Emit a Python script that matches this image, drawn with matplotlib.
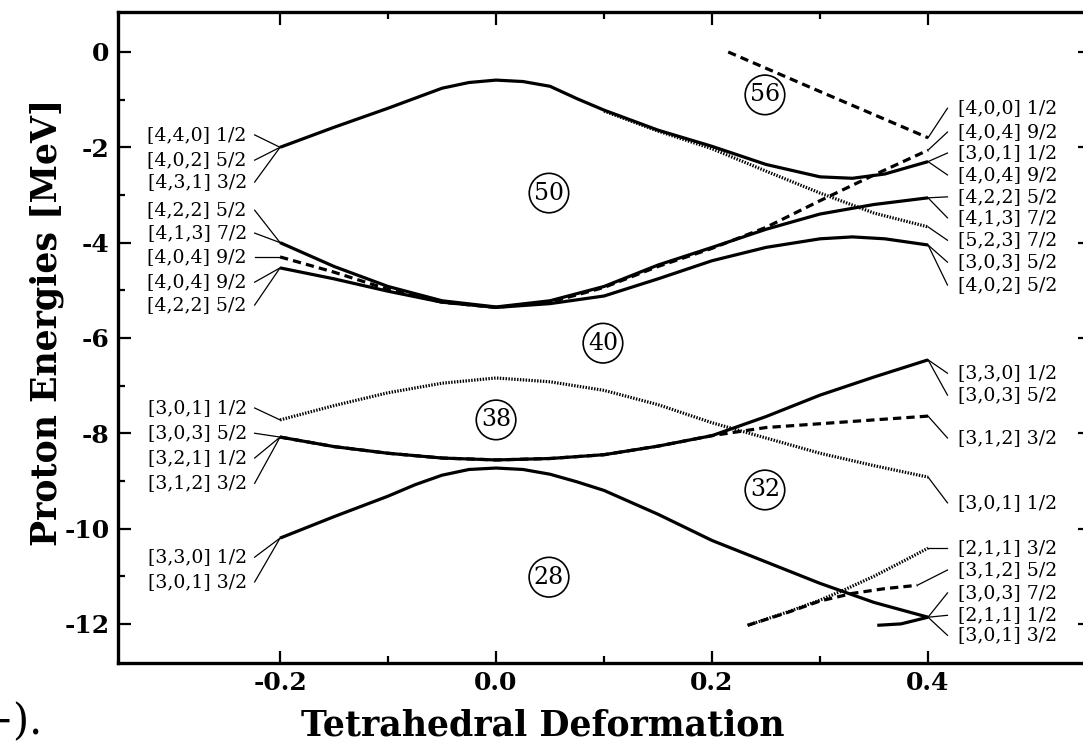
import matplotlib
matplotlib.use("Agg")
import matplotlib.pyplot as plt
from matplotlib.ticker import FixedLocator

# level curves (deformation, energy in MeV)
grid = [-0.2, -0.15, -0.1, -0.05, 0.0, 0.05, 0.1, 0.15, 0.2, 0.25, 0.3, 0.35, 0.4]

top_x = [-0.2, -0.15, -0.1, -0.075, -0.05, -0.025, 0.0, 0.025, 0.05, 0.075, 0.1, 0.15, 0.2,
         0.25, 0.3, 0.33, 0.36, 0.4]
top_e = [-2.0, -1.58, -1.18, -0.97, -0.76, -0.64, -0.59, -0.62, -0.72, -0.98, -1.22, -1.64, -1.98,
         -2.36, -2.62, -2.65, -2.56, -2.3]

branch_x = [0.1, 0.15, 0.2, 0.25, 0.3, 0.35, 0.4]
branch_e = [-1.24, -1.66, -2.03, -2.5, -2.96, -3.38, -3.67]

high_x = [0.215, 0.3, 0.4]
high_e = [0.0, -0.83, -1.8]

n50_upper = [-4.0, -4.5, -4.92, -5.22, -5.35, -5.22, -4.92, -4.47, -4.1, -3.72, -3.4, -3.2, -3.06]
n50_dash = [-4.3, -4.62, -4.98, -5.25, -5.36, -5.25, -4.94, -4.5, -4.12, -3.68, -3.12, -2.58, -2.06]
n50_lower_x = [-0.2, -0.15, -0.1, -0.05, 0.0, 0.05, 0.1, 0.15, 0.2, 0.25, 0.3, 0.33, 0.36, 0.4]
n50_lower = [-4.53, -4.76, -5.02, -5.25, -5.36, -5.28, -5.12, -4.76, -4.38, -4.1, -3.92, -3.88, -3.92, -4.05]

n38_dot = [-7.72, -7.42, -7.15, -6.95, -6.84, -6.92, -7.1, -7.4, -7.78, -8.1, -8.42, -8.68, -8.92]
n38_solid = [-8.08, -8.28, -8.42, -8.52, -8.56, -8.53, -8.45, -8.27, -8.05, -7.65, -7.2, -6.82, -6.46]
n32_dash = [-8.08, -8.28, -8.42, -8.52, -8.56, -8.53, -8.45, -8.27, -8.05, -7.88, -7.8, -7.72, -7.64]

n28_x = [-0.2, -0.15, -0.1, -0.075, -0.05, -0.025, 0.0, 0.025, 0.05, 0.075, 0.1, 0.15, 0.2,
         0.25, 0.3, 0.35, 0.4]
n28_solid = [-10.2, -9.75, -9.32, -9.08, -8.88, -8.76, -8.73, -8.76, -8.86, -9.02, -9.2, -9.7, -10.25,
             -10.7, -11.15, -11.55, -11.86]

low_dot_x = [0.233, 0.27, 0.3, 0.321, 0.35, 0.38, 0.4]
low_dot_e = [-12.03, -11.75, -11.5, -11.3, -11.0, -10.65, -10.41]
low_dash_x = [0.233, 0.27, 0.3, 0.33, 0.36, 0.39]
low_dash_e = [-12.03, -11.76, -11.52, -11.36, -11.26, -11.19]
low_solid_x = [0.353, 0.375, 0.4]
low_solid_e = [-12.03, -12.0, -11.86]

# magic numbers in circles
magic = ['56', '50', '40', '38', '32', '28']
magic_x = [0.249, 0.049, 0.099, 0.0, 0.249, 0.049]
magic_e = [-0.9, -2.96, -6.11, -7.72, -9.19, -11.02]

# Nilsson labels, left side
left_text = ['[4,4,0] 1/2', '[4,0,2] 5/2', '[4,3,1] 3/2', '[4,2,2] 5/2', '[4,1,3] 7/2',
             '[4,0,4] 9/2', '[4,0,4] 9/2', '[4,2,2] 5/2',
             '[3,0,1] 1/2', '[3,0,3] 5/2', '[3,2,1] 1/2', '[3,1,2] 3/2',
             '[3,3,0] 1/2', '[3,0,1] 3/2']
left_y = [-1.74, -2.27, -2.73, -3.32, -3.8, -4.3, -4.83, -5.31,
          -7.47, -8.0, -8.52, -9.05, -10.6, -11.12]
left_end = [(top_x[0], top_e[0])] * 3 + [(grid[0], n50_upper[0])] * 2 + \
           [(grid[0], n50_dash[0])] + [(n50_lower_x[0], n50_lower[0])] * 2 + \
           [(grid[0], n38_dot[0])] + [(grid[0], n38_solid[0])] * 3 + [(n28_x[0], n28_solid[0])] * 2

# Nilsson labels, right side
right_text = ['[4,0,0] 1/2', '[4,0,4] 9/2', '[3,0,1] 1/2', '[4,0,4] 9/2', '[4,2,2] 5/2',
              '[4,1,3] 7/2', '[5,2,3] 7/2', '[3,0,3] 5/2', '[4,0,2] 5/2',
              '[3,3,0] 1/2', '[3,0,3] 5/2', '[3,1,2] 3/2', '[3,0,1] 1/2',
              '[2,1,1] 3/2', '[3,1,2] 5/2', '[3,0,3] 7/2', '[2,1,1] 1/2', '[3,0,1] 3/2']
right_y = [-1.18, -1.68, -2.12, -2.58, -3.04, -3.48, -3.95, -4.41, -4.89,
           -6.74, -7.2, -8.1, -9.46, -10.41, -10.87, -11.35, -11.82, -12.24]
right_end = [(high_x[-1], high_e[-1]), (grid[-1], n50_dash[-1])] + [(top_x[-1], top_e[-1])] * 2 + \
            [(grid[-1], n50_upper[-1])] * 2 + [(branch_x[-1], branch_e[-1])] + \
            [(n50_lower_x[-1], n50_lower[-1])] * 2 + [(grid[-1], n38_solid[-1])] * 2 + \
            [(grid[-1], n32_dash[-1]), (grid[-1], n38_dot[-1]), (low_dot_x[-1], low_dot_e[-1]),
             (low_dash_x[-1], low_dash_e[-1])] + [(low_solid_x[-1], low_solid_e[-1])] * 3

plt.rcParams['font.family'] = 'DejaVu Serif'

fig = plt.figure(figsize=(10.83, 7.52), dpi=100)
ax = fig.add_axes([0.109, 0.1184, 0.8975, 0.8657])

solid = dict(color='black', lw=2.3, solid_capstyle='butt', solid_joinstyle='round')
dots = dict(color='black', lw=2.3, linestyle=(0, (0.45, 0.45)))
dash = dict(color='black', lw=2.3, linestyle=(0, (2.6, 1.6)))

ax.plot(top_x, top_e, **solid)
ax.plot(branch_x, branch_e, **dots)
ax.plot(high_x, high_e, **dash)
ax.plot(grid, n50_upper, **solid)
ax.plot(grid, n50_dash, **dash)
ax.plot(n50_lower_x, n50_lower, **solid)
ax.plot(grid, n38_dot, **dots)
ax.plot(grid, n38_solid, **solid)
ax.plot(grid, n32_dash, **dash)
ax.plot(n28_x, n28_solid, **solid)
ax.plot(low_dot_x, low_dot_e, **dots)
ax.plot(low_dash_x, low_dash_e, **dash)
ax.plot(low_solid_x, low_solid_e, **solid)

for m, x, e in zip(magic, magic_x, magic_e):
    ax.text(x, e, m, ha='center', va='center', fontsize=17,
            bbox=dict(boxstyle='circle,pad=0.2', fc='white', ec='black', lw=1.2))

# labels with leader lines
for t, y, (x0, e0) in zip(left_text, left_y, left_end):
    ax.plot([x0, -0.2235], [e0, y], color='black', lw=0.9)
    ax.text(-0.2308, y, t, ha='right', va='center', fontsize=13.6)
for t, y, (x0, e0) in zip(right_text, right_y, right_end):
    ax.plot([x0, 0.418], [e0, y], color='black', lw=0.9)
    ax.text(0.4275, y, t, ha='left', va='center', fontsize=13.6)

ax.set_xlim(-0.35, 0.55)
ax.set_ylim(-12.82, 0.84)
ax.xaxis.set_major_locator(FixedLocator([-0.2, 0.0, 0.2, 0.4]))
ax.xaxis.set_minor_locator(FixedLocator([-0.1, 0.1, 0.3]))
ax.yaxis.set_major_locator(FixedLocator([0, -2, -4, -6, -8, -10, -12]))
ax.yaxis.set_minor_locator(FixedLocator([-1, -3, -5, -7, -9, -11]))
ax.set_xticklabels(['-0.2', '0.0', '0.2', '0.4'])
ax.set_yticklabels(['0', '-2', '-4', '-6', '-8', '-10', '-12'])
ax.tick_params(which='both', direction='in', top=True, right=True, width=1.6, colors='black')
ax.tick_params(which='major', length=9, labelsize=18)
ax.tick_params(which='minor', length=5)
ax.tick_params(axis='x', pad=6)
ax.tick_params(axis='y', pad=6)
for lab in ax.get_xticklabels() + ax.get_yticklabels():
    lab.set_fontweight('bold')
for s in ax.spines.values():
    s.set_linewidth(2.4)

fig.text(543 / 1083, 1 - 725 / 752, 'Tetrahedral Deformation', ha='center', va='center',
         fontsize=25, fontweight='bold')
fig.text(47 / 1083, 1 - 322 / 752, 'Proton Energies [MeV]', ha='center', va='center',
         rotation=90, fontsize=25, fontweight='bold')
fig.text(-0.02, 1 - 722 / 752, '\u2212).', ha='left', va='center', fontsize=30)

fig.savefig('out.png', dpi=100)
